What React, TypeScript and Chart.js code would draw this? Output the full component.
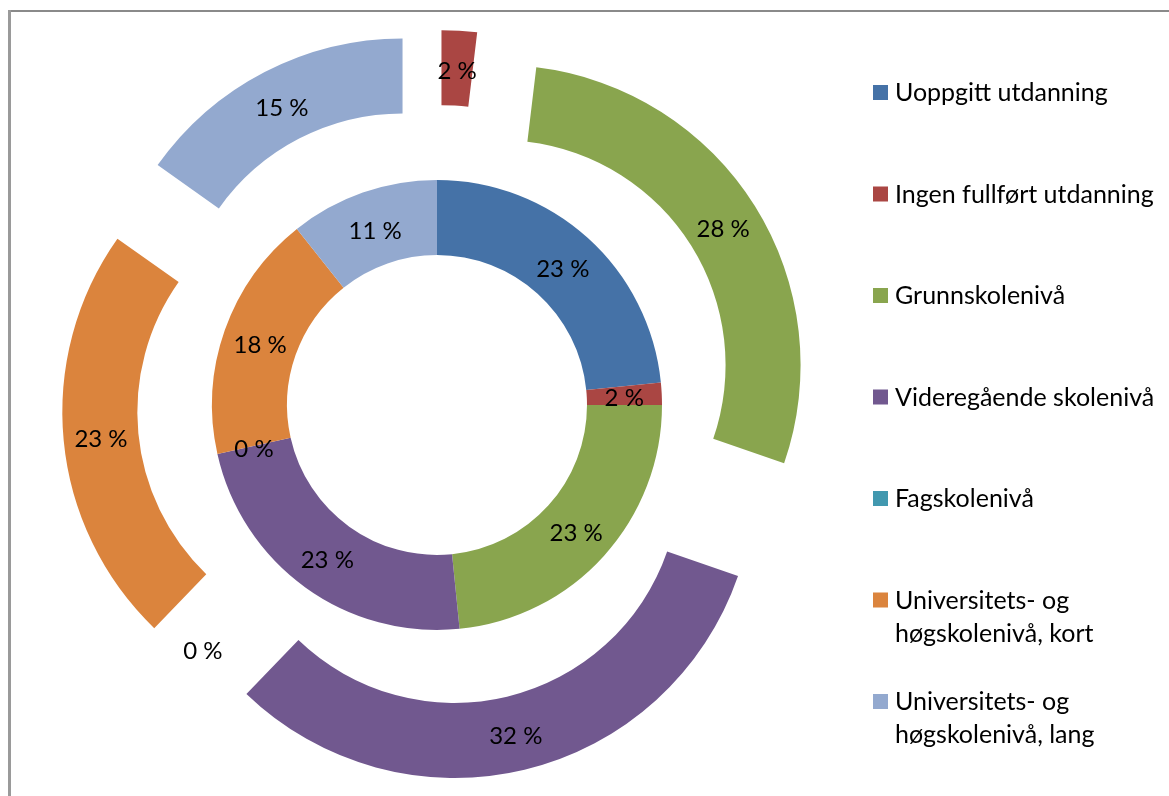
import React, { useEffect, useRef } from 'react';
import { Chart, registerables } from 'chart.js';

Chart.register(...registerables);

// ---- data ----
const categories: string[] = [
  'Uoppgitt utdanning',
  'Ingen fullført utdanning',
  'Grunnskolenivå',
  'Videregående skolenivå',
  'Fagskolenivå',
  'Universitets- og høgskolenivå, kort',
  'Universitets- og høgskolenivå, lang',
];
const legendLines: string[][] = [
  ['Uoppgitt utdanning'],
  ['Ingen fullført utdanning'],
  ['Grunnskolenivå'],
  ['Videregående skolenivå'],
  ['Fagskolenivå'],
  ['Universitets- og', 'høgskolenivå, kort'],
  ['Universitets- og', 'høgskolenivå, lang'],
];
// outer ring (exploded); first category has no value in this ring
const outerValues: (number | null)[] = [null, 1.9, 28.4, 31.9, 0, 22.6, 15.2];
// inner ring
const innerValues: number[] = [23.4, 1.6, 23.4, 23.1, 0, 17.8, 10.7];
const colors: string[] = ['#4572A7', '#AA4643', '#89A54E', '#71588F', '#4198AF', '#DB843D', '#93A9CF'];

// ---- styling constants ----
const W = 1169;
const H = 796;
const CX = 437;
const CY = 405;
const EXPLODE = 75;
const FONT = 'Lato, "Open Sans", sans-serif';

const framePlugin = {
  id: 'frame',
  beforeDraw(chart: any) {
    const ctx = chart.ctx;
    ctx.save();
    ctx.fillStyle = '#ffffff';
    ctx.fillRect(0, 0, chart.width, chart.height);
    ctx.fillStyle = '#8a8a8a';
    ctx.fillRect(8, 10, chart.width - 8, 2);
    ctx.fillStyle = '#9a9a9a';
    ctx.fillRect(8, 10, 3, chart.height - 10);
    ctx.restore();
  },
};

const explodePlugin = {
  id: 'explode',
  beforeDatasetDraw(chart: any, args: any) {
    if (args.index !== 0) return;
    const ctx = chart.ctx;
    for (const arc of args.meta.data) {
      const p = arc.getProps(['startAngle', 'endAngle'], true);
      const mid = (p.startAngle + p.endAngle) / 2;
      ctx.save();
      ctx.translate(Math.cos(mid) * EXPLODE, Math.sin(mid) * EXPLODE);
      arc.draw(ctx);
      ctx.restore();
    }
    return false;
  },
};

const labelPlugin = {
  id: 'pctLabels',
  afterDatasetsDraw(chart: any) {
    const ctx = chart.ctx;
    ctx.save();
    ctx.font = `24px ${FONT}`;
    ctx.fillStyle = '#000000';
    ctx.textAlign = 'center';
    ctx.textBaseline = 'middle';
    chart.data.datasets.forEach((ds: any, di: number) => {
      const meta = chart.getDatasetMeta(di);
      const extra = di === 0 ? EXPLODE : 0;
      const total = ds.data.reduce((s: number, v: any) => s + (v == null ? 0 : v), 0);
      meta.data.forEach((arc: any, i: number) => {
        const raw = ds.data[i];
        if (raw === null || raw === undefined) return;
        const p = arc.getProps(['x', 'y', 'startAngle', 'endAngle', 'innerRadius', 'outerRadius'], true);
        const mid = (p.startAngle + p.endAngle) / 2;
        const r = (p.innerRadius + p.outerRadius) / 2 + extra;
        const pct = Math.round((raw / total) * 100);
        ctx.fillText(`${pct} %`, p.x + Math.cos(mid) * r, p.y + Math.sin(mid) * r + 3);
      });
    });
    ctx.restore();
  },
};

const legendPlugin = {
  id: 'sideLegend',
  afterDraw(chart: any) {
    const ctx = chart.ctx;
    ctx.save();
    ctx.font = `25px ${FONT}`;
    ctx.textAlign = 'left';
    ctx.textBaseline = 'alphabetic';
    categories.forEach((_, i) => {
      const top = 85 + i * 101.5;
      ctx.fillStyle = colors[i];
      ctx.fillRect(873, top, 15, 15);
      ctx.fillStyle = '#000000';
      legendLines[i].forEach((line, li) => {
        ctx.fillText(line, 895, top + 16 + li * 33);
      });
    });
    ctx.restore();
  },
};

export default function App() {
  const ref = useRef<HTMLCanvasElement | null>(null);

  useEffect(() => {
    if (!ref.current) return;
    const chart = new Chart(ref.current, {
      type: 'doughnut',
      data: {
        labels: categories,
        datasets: [
          {
            label: 'Ytre',
            data: outerValues as any,
            backgroundColor: colors,
            borderWidth: 0,
            hoverOffset: 0,
          },
          {
            label: 'Indre',
            data: innerValues,
            backgroundColor: colors,
            borderWidth: 0,
            hoverOffset: 0,
          },
        ],
      },
      options: {
        responsive: false,
        maintainAspectRatio: false,
        animation: false,
        events: [],
        radius: 300,
        cutout: '50%',
        layout: {
          padding: { left: 0, top: 2 * CY - H, right: W - 2 * CX, bottom: 0 },
        },
        plugins: {
          legend: { display: false },
          tooltip: { enabled: false },
        },
      } as any,
      plugins: [framePlugin, explodePlugin, labelPlugin, legendPlugin],
    });
    return () => chart.destroy();
  }, []);

  return (
    <div style={{ position: 'fixed', left: 0, top: 0, width: W, height: H, background: '#fff' }}>
      <canvas ref={ref} width={W} height={H} style={{ display: 'block', width: W, height: H }} />
    </div>
  );
}
